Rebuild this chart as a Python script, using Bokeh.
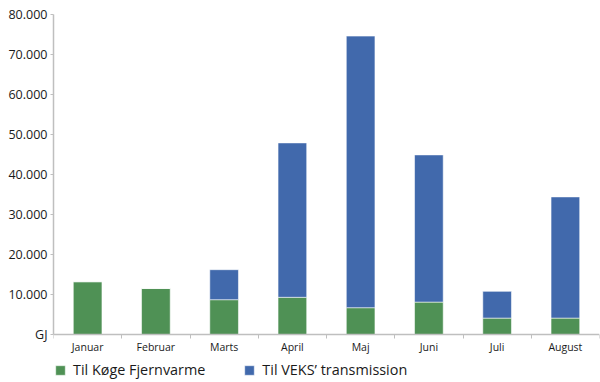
from bokeh.plotting import figure
from bokeh.models import (ColumnDataSource, Range1d, FixedTicker, Legend, LegendItem)
from bokeh.embed import file_html
from bokeh.resources import INLINE

months = ["Januar", "Februar", "Marts", "April", "Maj", "Juni", "Juli", "August"]
koge = [13200, 11500, 8700, 9300, 6700, 8100, 4100, 4100]
veks = [0, 0, 7500, 38600, 67900, 36800, 6700, 30300]
series_labels = ["Til Køge Fjernvarme", "Til VEKS’ transmission"]
series_colors = ["#4f9155", "#4169ac"]
y_ticks = [0, 10000, 20000, 30000, 40000, 50000, 60000, 70000, 80000]
y_zero_label = "GJ"

xs = [i + 0.5 for i in range(len(months))]
source = ColumnDataSource(dict(x=xs, koge=koge, veks=veks))

# frame spans down to the page bottom so that the legend can sit under the x axis
p = figure(frame_width=546, frame_height=368, output_backend="svg", toolbar_location=None,
           x_range=Range1d(0, len(months)), y_range=Range1d(-12000, 80000),
           min_border_left=53, min_border_right=1, min_border_top=14, min_border_bottom=0)
p.outline_line_color = None
p.xgrid.grid_line_color = None
p.ygrid.grid_line_color = None
p.background_fill_color = "white"
p.border_fill_color = "white"

rs = p.vbar_stack(["koge", "veks"], x="x", width=0.42, color=series_colors,
                  line_color="white", line_alpha=0.55, line_width=1, source=source)

# axes
xa = p.xaxis[0]
xa.fixed_location = 0
xa.ticker = FixedTicker(ticks=xs, minor_ticks=list(range(len(months) + 1)))
xa.major_label_overrides = {x: m for x, m in zip(xs, months)}
xa.major_tick_in = 0
xa.major_tick_out = 0
xa.minor_tick_in = 0
xa.minor_tick_out = 4
xa.minor_tick_line_color = "#bfbfbf"
xa.axis_line_color = "#bfbfbf"
xa.axis_line_width = 1.5
xa.major_label_text_font = "Open Sans"
xa.major_label_text_font_size = "10.5px"
xa.major_label_text_color = "#1a1a1a"
xa.major_label_standoff = 1

ya = p.yaxis[0]
ya.bounds = (0, 80000)
ya.ticker = FixedTicker(ticks=y_ticks, minor_ticks=[])
ov = {t: f"{t:,}".replace(",", ".") for t in y_ticks}
ov[0] = y_zero_label
ya.major_label_overrides = ov
ya.major_tick_in = 0
ya.major_tick_out = 3
ya.major_tick_line_color = "#bfbfbf"
ya.axis_line_color = "#bfbfbf"
ya.axis_line_width = 1.5
ya.major_label_text_font = "Open Sans"
ya.major_label_text_font_size = "12.5px"
ya.major_label_text_color = "#1a1a1a"
ya.major_label_standoff = 3

legend = Legend(items=[LegendItem(label=lab, renderers=[r]) for lab, r in zip(series_labels, rs)],
                orientation="horizontal", location=(1, 3),
                label_text_font="Open Sans", label_text_font_size="14.4px",
                label_text_color="#1a1a1a", glyph_width=12, glyph_height=12,
                label_standoff=7, spacing=38, padding=0, margin=0,
                label_height=14,
                border_line_color=None, background_fill_alpha=0)
p.add_layout(legend, "center")

open("out.html", "w").write(file_html(p, INLINE))
